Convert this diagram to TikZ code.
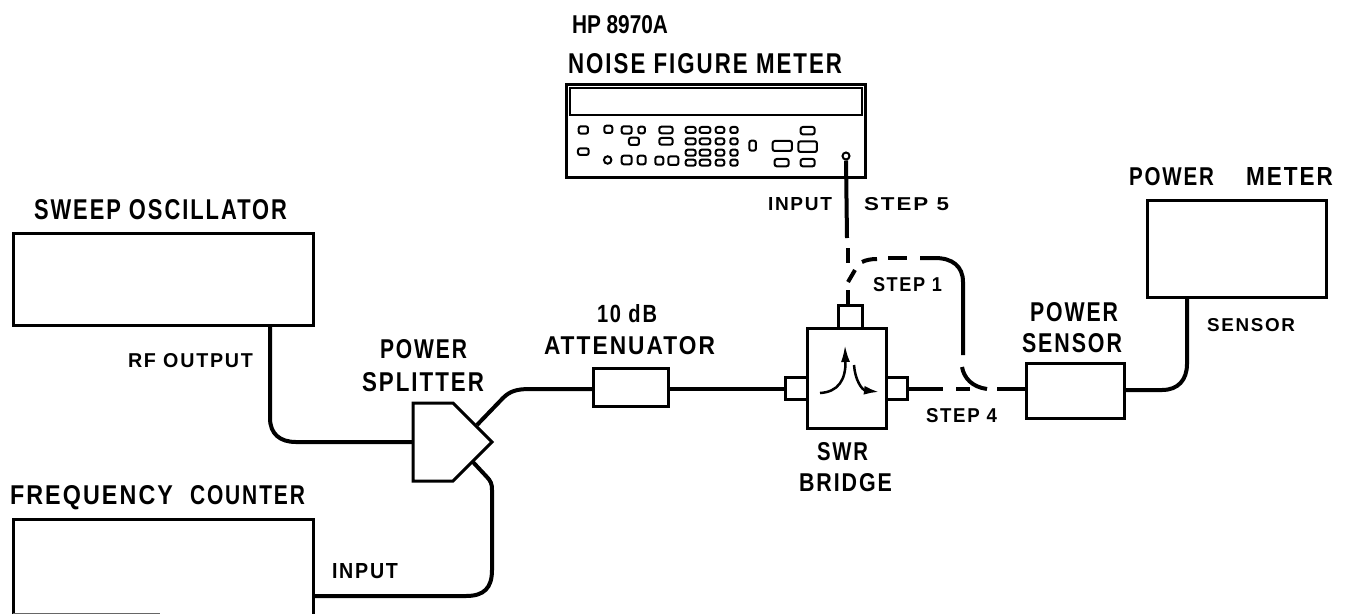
\documentclass[tikz,border=0pt]{standalone}
\usepackage{fontspec}
\usepackage{graphicx}
\setmainfont{Liberation Sans}
\usetikzlibrary{arrows.meta}
\newcommand{\lbl}[6]{% name, x1, x2, y1, y2, text
  \pgfmathsetmacro{\lw}{#3-#2}\pgfmathsetmacro{\lh}{#5-#4}
  \node[inner sep=0pt,outer sep=0pt,anchor=base west] (#1) at (#2,#5) {\resizebox{\lw pt}{\lh pt}{\bfseries\addfontfeature{LetterSpace=9}#6}};}
\newcommand{\lbltight}[6]{%
  \pgfmathsetmacro{\lw}{#3-#2}\pgfmathsetmacro{\lh}{#5-#4}
  \node[inner sep=0pt,outer sep=0pt,anchor=base west] (#1) at (#2,#5) {\resizebox{\lw pt}{\lh pt}{\textbf{#6}}};}
\tikzset{
  x=1pt,y=-1pt,
  box/.style={draw=black,line width=3pt,fill=white,inner sep=0pt},
  wire/.style={draw=black,line width=4pt},
  dashseg/.style={draw=black,line width=4pt},
  btnshape/.style={draw=black,line width=2pt,rounded corners=2.2pt,inner sep=0pt,fill=white},
}
\begin{document}
\begin{tikzpicture}
\useasboundingbox (0,0) rectangle (1349,614);
% instruments
\draw[box] (13,233) rectangle (313,325);
\coordinate (sweepOut) at (270,325);
\draw[line width=3pt] (13,614) -- (13,519) -- (313,519) -- (313,614);
\draw[line width=1pt,draw=black!60] (13,613) -- (160,613);
\coordinate (counterIn) at (313,596);
\draw[box] (1147,200) rectangle (1326,297);
\coordinate (pmIn) at (1187,297);
% NF meter
\draw[line width=3pt] (566,84) rectangle (865,177);
\draw[line width=2pt] (570,88) rectangle (862,115);
\begin{scope}[shift={(500,0)},x=0.3333pt,y=-0.3333pt]
\foreach \cx/\cy/\w/\h in {250/390/28/22,325/388/24/22,380/390/30/22,425/390/20/20,498/390/40/20,498/424/40/20,402/424/30/22,
 572/390/30/18,615/390/32/18,660/390/26/18,702/390/22/18,
 572/424/30/18,615/424/32/18,660/424/26/18,702/424/22/18,
 572/458/30/18,615/458/32/18,660/458/26/18,702/458/22/18,
 572/488/30/18,615/488/32/18,660/488/26/18,702/488/22/18,
 250/455/32/20,380/480/30/26,425/480/24/26,478/482/24/24,520/482/30/26,
 758/437/20/30,847/438/58/30,923/440/56/32,923/392/42/22,845/488/42/22,923/488/42/22}
 {\node[btnshape,minimum width=\w*0.3333pt,minimum height=\h*0.3333pt] at (\cx,\cy) {};}
\draw[line width=2pt,fill=white] (323,480) circle (22pt*0.17);
\end{scope}
\node[draw=black,line width=2pt,circle,minimum size=7pt,inner sep=0pt,fill=white] (jack) at (846,156) {};
% splitter
\draw[box,line join=miter] (413,403) -- (453,403) -- (492,442) -- (453,481) -- (413,481) -- cycle;
\coordinate (splitIn) at (413,442);
\coordinate (splitA) at (477,425);
\coordinate (splitB) at (472,461);
% attenuator, bridge, sensor
\draw[box] (593,368) rectangle (668,406);
\coordinate (attL) at (593,389); \coordinate (attR) at (668,389);
\draw[box] (785,377) rectangle (807,399);
\draw[box] (886,377) rectangle (907,399);
\draw[box] (838,305) rectangle (862,328);
\draw[box] (807,328) rectangle (886,428);
\coordinate (brL) at (785,389); \coordinate (brR) at (907,389); \coordinate (brT) at (848,305);
\draw[box] (1026,363) rectangle (1124,418);
\coordinate (psL) at (1026,389); \coordinate (psR) at (1124,390);
% wires
\draw[wire] (sweepOut) -- (270,418) .. controls (270,434) and (280,442) .. (296,442) -- (splitIn);
\draw[wire] (splitA) -- (503,398) .. controls (510,391) and (517,389) .. (530,389) -- (attL);
\draw[line width=3.5pt] (attR) -- (brL);
\draw[wire] (splitB) -- (486,476) .. controls (491,481) and (492,484) .. (492,490) -- (492,570) .. controls (492,588) and (484,596) .. (466,596) -- (counterIn);
\draw[wire] (psR) -- (1162,390) .. controls (1178,390) and (1187,380) .. (1187,364) -- (pmIn);
% step 5 / top port
\draw[line width=4pt] (jack.south) -- (847,238);
\draw[dashseg] (848,248) -- (848,263);
\draw[dashseg] (848,290) -- (brT);
\draw[dashseg] (848,282) -- (855,270);
\draw[dashseg] (862,262) .. controls (866,260) and (871,259) .. (877,259);
\draw[dashseg] (888,258) -- (907,258);
\draw[dashseg] (920,258) -- (935,258) .. controls (952,258) and (963,266) .. (963,282) -- (963,355);
% step 1/4 lower
\draw[dashseg] (962,367) .. controls (964,378) and (972,387) .. (987,389);
\draw[dashseg] (brR) -- (943,389);
\draw[dashseg] (956,389) -- (970,389);
\draw[dashseg] (997,389) -- (psL);
% bridge arrows
\draw[line width=2.5pt,-{Latex[length=17pt,width=9pt]}] (820,393) .. controls (838,392) and (846,380) .. (845,345);
\draw[line width=2.5pt,-{Latex[length=15pt,width=9pt]}] (854,365) .. controls (855,380) and (862,390) .. (879,392);
% labels
\lbltight{l1}{572}{668}{15}{33}{HP 8970A}
\lbl{l2}{568}{842}{53}{73}{NOISE FIGURE METER}
\lbl{l3}{768}{832}{197}{210}{INPUT}
\lbl{l4}{864}{949}{197}{210}{STEP 5}
\lbl{l5}{1129}{1214}{167}{185}{POWER}
\lbl{l6}{1246}{1333}{167}{185}{METER}
\lbl{l7}{34}{287}{199}{219}{SWEEP OSCILLATOR}
\lbl{l8}{128}{253}{353}{367}{RF OUTPUT}
\lbl{l9}{380}{467}{339}{358}{POWER}
\lbl{l10}{362}{484}{372}{391}{SPLITTER}
\lbl{l11}{597}{657}{304}{322}{10 dB}
\lbl{l12}{544}{715}{336}{354}{ATTENUATOR}
\lbl{l13}{817}{868}{442}{460}{SWR}
\lbl{l14}{799}{892}{473}{491}{BRIDGE}
\lbl{l15}{873}{942}{277}{291}{STEP 1}
\lbl{l16}{926}{997}{408}{422}{STEP 4}
\lbl{l17}{1030}{1118}{302}{321}{POWER}
\lbl{l18}{1022}{1122}{333}{352}{SENSOR}
\lbl{l19}{1207}{1295}{318}{331}{SENSOR}
\lbl{l20}{10}{173}{485}{504}{FREQUENCY}
\lbl{l21}{190}{305}{485}{504}{COUNTER}
\lbl{l22}{332}{398}{563}{578}{INPUT}
\end{tikzpicture}
\end{document}
